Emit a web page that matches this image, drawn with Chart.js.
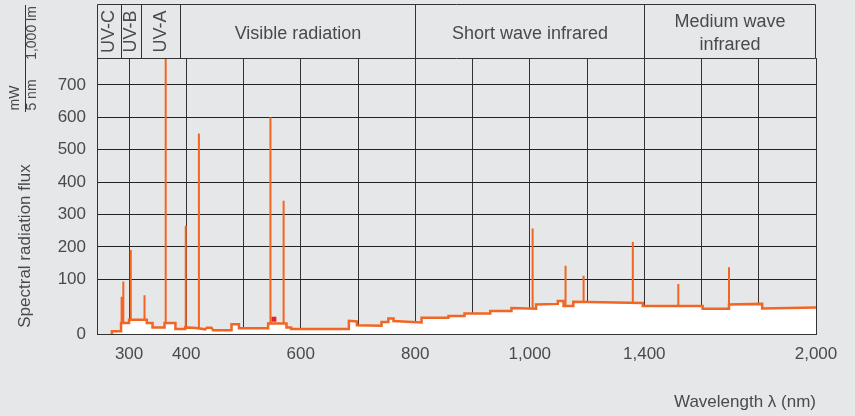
<!DOCTYPE html>
<html>
<head>
<meta charset="utf-8">
<script src="https://cdn.jsdelivr.net/npm/chart.js@4.4.1/dist/chart.umd.min.js"></script>
<style>
  html, body { margin: 0; padding: 0; background: #e6e7e9; }
  #wrap { width: 855px; height: 416px; }
</style>
</head>
<body>
<div id="wrap"><canvas id="spectrum" width="855" height="416"></canvas></div>
<script>
// continuous part of the spectrum, as polyline vertices (wavelength nm, mW per 5 nm)
const bandNm = [270, 270, 286, 286, 300, 300, 331, 331, 341, 341, 362, 362, 381, 381, 398, 398, 417, 433, 436, 444, 447,
  479, 479, 492, 492, 543, 543, 575, 575, 583, 583, 684, 684, 698, 698, 741, 741, 753, 753, 762, 762,
  811, 811, 858, 858, 886, 886, 931, 931, 968, 968, 1022, 1022, 1098, 1098, 1118, 1118, 1152, 1152,
  1395, 1395, 1604, 1604, 1696, 1696, 1812, 1812, 2000];
const bandFlux = [0, 5, 5, 20, 20, 26, 26, 20, 20, 12, 12, 20, 20, 9, 9, 12, 11, 8.5, 11.5, 11.5, 6.7,
  6.7, 17.6, 17.6, 10.4, 10.4, 19.4, 19.4, 12, 12, 9, 9, 24, 23, 16, 15, 22, 22, 28.5, 28.5, 23.6,
  21, 29.6, 29.6, 32.7, 32.7, 37.6, 37.6, 41.8, 41.8, 47.3, 46, 54, 55, 60.5, 60.5, 51, 51, 58.7,
  56.5, 51, 51, 46, 46, 54, 55, 46.7, 48.5];

// emission lines
const lineNm = [287, 290, 303, 327, 364, 399, 422, 547, 570, 1010, 1125, 1188, 1360, 1519, 1696];
const lineFlux = [68, 96, 190, 71, 900, 265, 550, 600, 342, 257, 142, 111, 215, 91.5, 137];

const markNm = [553];
const markFlux = [27];

const gridNm = [300, 400, 500, 600, 700, 800, 900, 1000, 1200, 1400, 1600, 1800, 2000];
const gridText = ['300', '400', '', '600', '', '800', '', '1,000', '', '1,400', '', '', '2,000'];
const fluxTicks = [0, 100, 200, 300, 400, 500, 600, 700];

const regionEdges = [286, 321, 389, 800, 1400];

// wavelength axis is compressed by half above 1000 nm,
// flux axis is stretched below 100
const xPos = nm => nm <= 1000 ? nm : 1000 + (nm - 1000) / 2;
const yPos = v => v <= 100 ? v * 1.69 : 169 + (v - 100);

const ORANGE = '#f26522';
const TEXT = '#4a4a4a';
const FONT = 'Liberation Sans, Arial, sans-serif';

function bandAt(nm) {
  for (let i = 0; i < bandNm.length - 1; i++) {
    const a = bandNm[i], b = bandNm[i + 1];
    if (b > a && nm >= a && nm <= b) {
      return bandFlux[i] + (bandFlux[i + 1] - bandFlux[i]) * (nm - a) / (b - a);
    }
  }
  return 0;
}

const bandPoints = bandNm.map((nm, i) => ({ x: xPos(nm), y: yPos(bandFlux[i]) }));

const linePoints = [];
lineNm.forEach((nm, i) => {
  linePoints.push({ x: xPos(nm), y: yPos(bandAt(nm)) });
  linePoints.push({ x: xPos(nm), y: yPos(lineFlux[i]) });
  linePoints.push({ x: xPos(nm), y: null });
});

const markPoints = markNm.map((nm, i) => ({ x: xPos(nm), y: yPos(markFlux[i]) }));

function rotText(ctx, text, cx, cy, size) {
  ctx.save();
  ctx.translate(cx, cy);
  ctx.rotate(-Math.PI / 2);
  ctx.font = `${size}px ${FONT}`;
  ctx.textAlign = 'center';
  ctx.textBaseline = 'middle';
  ctx.fillText(text, 0, 0);
  ctx.restore();
}

const decor = {
  id: 'decor',
  beforeDraw(chart) {
    const ctx = chart.ctx;
    ctx.save();
    ctx.fillStyle = '#e6e7e9';
    ctx.fillRect(0, 0, chart.width, chart.height);
    ctx.restore();
  },
  afterDraw(chart) {
    const { ctx, chartArea: a, scales: { x } } = chart;
    const px = nm => Math.round(x.getPixelForValue(xPos(nm))) + 0.5;
    const left = Math.round(a.left) + 0.5, right = Math.round(a.right) - 0.5;
    const top = 4.5, bottom = Math.round(a.top) + 0.5;

    ctx.save();
    ctx.strokeStyle = '#333';
    ctx.lineWidth = 1;
    ctx.beginPath();
    ctx.moveTo(left, bottom); ctx.lineTo(left, top); ctx.lineTo(right, top); ctx.lineTo(right, bottom);
    ctx.lineTo(left, bottom);
    regionEdges.forEach(nm => { ctx.moveTo(px(nm), top); ctx.lineTo(px(nm), bottom); });
    ctx.stroke();

    ctx.fillStyle = TEXT;
    const e = regionEdges.map(px);
    const mid = (top + bottom) / 2;
    rotText(ctx, 'UV-C', (left + e[0]) / 2, mid, 18);
    rotText(ctx, 'UV-B', (e[0] + e[1]) / 2, mid, 18);
    rotText(ctx, 'UV-A', (e[1] + e[2]) / 2, mid, 18);

    ctx.font = `18px ${FONT}`;
    ctx.textAlign = 'center';
    ctx.textBaseline = 'alphabetic';
    ctx.fillText('Visible radiation', (e[2] + e[3]) / 2, 39);
    ctx.fillText('Short wave infrared', (e[3] + e[4]) / 2, 39);
    ctx.fillText('Medium wave', (e[4] + right) / 2, 27);
    ctx.fillText('infrared', (e[4] + right) / 2, 50);

    // unit: mW / (5 nm · 1,000 lm)
    ctx.beginPath();
    ctx.moveTo(25.5, 5); ctx.lineTo(25.5, 112);
    ctx.stroke();
    rotText(ctx, 'mW', 15, 98, 14);
    rotText(ctx, '5 nm', 32, 95, 14);
    rotText(ctx, '1,000 lm', 32, 33, 14);

    rotText(ctx, 'Spectral radiation flux', 25, 246, 17);

    ctx.font = `17px ${FONT}`;
    ctx.textAlign = 'right';
    ctx.textBaseline = 'alphabetic';
    ctx.fillText('Wavelength \u03bb (nm)', 816, 407);
    ctx.restore();
  }
};

new Chart(document.getElementById('spectrum'), {
  type: 'line',
  data: {
    datasets: [
      {
        data: bandPoints,
        borderColor: ORANGE,
        borderWidth: 2.5,
        backgroundColor: '#ffffff',
        fill: 'origin',
        pointRadius: 0,
        tension: 0
      },
      {
        data: linePoints,
        borderColor: ORANGE,
        borderWidth: 2,
        fill: false,
        pointRadius: 0,
        spanGaps: false
      },
      {
        data: markPoints,
        showLine: false,
        pointStyle: 'rect',
        pointRadius: 3.5,
        pointBackgroundColor: '#e8202a',
        pointBorderWidth: 0
      }
    ]
  },
  options: {
    responsive: false,
    devicePixelRatio: 1,
    animation: false,
    layout: { padding: { top: 58, right: 39, left: 0, bottom: 0 } },
    plugins: { legend: { display: false }, tooltip: { enabled: false } },
    scales: {
      x: {
        type: 'linear',
        min: xPos(244),
        max: xPos(2000),
        afterBuildTicks: s => { s.ticks = gridNm.map(nm => ({ value: xPos(nm) })); },
        afterFit: s => { s.height = 82; },
        grid: { color: '#333', lineWidth: 1, drawTicks: false },
        border: { color: '#333', width: 1 },
        ticks: {
          autoSkip: false,
          maxRotation: 0,
          padding: 10,
          color: TEXT,
          font: { family: FONT, size: 17 },
          callback: (v, i) => gridText[i]
        }
      },
      y: {
        type: 'linear',
        min: 0,
        max: 852,
        afterBuildTicks: s => { s.ticks = fluxTicks.map(v => ({ value: yPos(v) })); },
        afterFit: s => { s.width = 97; },
        grid: { color: '#222', lineWidth: 1, drawTicks: false },
        border: { color: '#333', width: 1 },
        ticks: {
          padding: 11,
          color: TEXT,
          font: { family: FONT, size: 17 },
          callback: (v, i) => String(fluxTicks[i])
        }
      }
    }
  },
  plugins: [decor]
});
</script>
</body>
</html>
